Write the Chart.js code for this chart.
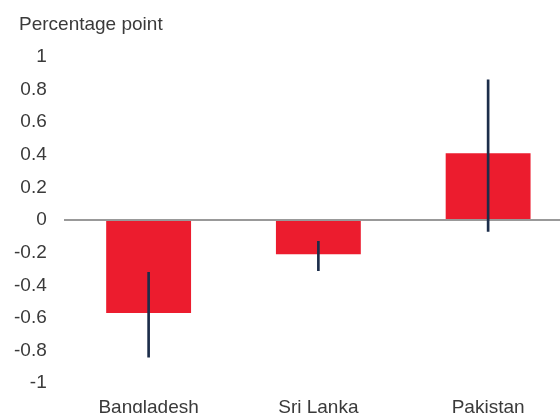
<!DOCTYPE html>
<html>
<head>
<meta charset="utf-8">
<script src="https://cdn.jsdelivr.net/npm/chart.js@4/dist/chart.umd.min.js"></script>
<style>
  html, body { margin: 0; padding: 0; background: #fff; overflow: hidden; }
  #wrap { position: relative; width: 573px; height: 432px; }
</style>
</head>
<body>
<div id="wrap"><canvas id="chart"></canvas></div>
<script>
// categories and values
const countries = ['Bangladesh', 'Sri Lanka', 'Pakistan'];
const effect = [-0.57, -0.21, 0.41];
const errLow = [-0.84, -0.31, -0.07];
const errHigh = [-0.32, -0.13, 0.86];
const unitLabel = 'Percentage point';

// error bars as thin floating bars
let errRanges = [];
countries.forEach(function(c, i){
    errRanges.push([errLow[i], errHigh[i]]);
});

Chart.defaults.font.family = '"Liberation Sans", Arial, sans-serif';
Chart.defaults.font.size = 19;
Chart.defaults.color = '#3a3a3a';

// unit label sits top left, above the axis labels
const unitTitle = {
    id: 'unitTitle',
    afterDraw: function(chart){
        const c = chart.ctx;
        c.save();
        c.font = '19px "Liberation Sans", Arial, sans-serif';
        c.fillStyle = '#3a3a3a';
        c.textBaseline = 'middle';
        c.fillText(unitLabel, 19, 25);
        c.restore();
    }
};

var ctx = document.getElementById('chart').getContext('2d');
var chart = new Chart(ctx, {
    type: 'bar',
    data: {
        labels: countries,
        datasets: [{
            label: 'Range',
            data: errRanges,
            backgroundColor: '#1c2d4a',
            barThickness: 2,
            grouped: false,
            order: 0
        }, {
            label: 'Effect',
            data: effect,
            backgroundColor: '#ec1c2e',
            categoryPercentage: 1,
            barPercentage: 0.5,
            grouped: false,
            order: 1
        }]
    },
    options: {
        responsive: true,
        maintainAspectRatio: false,
        animation: false,
        layout: { padding: { left: -3, right: 0, top: 57, bottom: 0 } },
        plugins: {
            legend: { display: false },
            tooltip: { enabled: false },
            title: { display: false }
        },
        scales: {
            x: {
                grid: { display: false, drawTicks: false },
                border: { display: false },
                ticks: { padding: 13 }
            },
            y: {
                min: -1,
                max: 1,
                border: { display: false },
                grid: {
                    drawTicks: false,
                    color: function(c){ return c.tick && c.tick.value === 0 ? '#999999' : 'rgba(0,0,0,0)'; },
                    lineWidth: function(c){ return c.tick && c.tick.value === 0 ? 2 : 0; }
                },
                ticks: {
                    stepSize: 0.2,
                    padding: 17,
                    callback: function(v){ return Math.round(v * 10) / 10; }
                }
            }
        }
    },
    plugins: [unitTitle]
});
</script>
</body>
</html>
